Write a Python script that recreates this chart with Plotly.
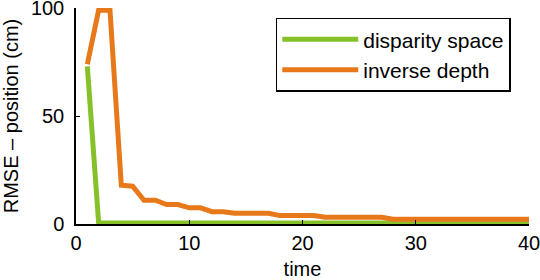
import plotly.graph_objects as go

time = list(range(1, 41))
disparity_space = [73] + [0.5] * 39
inverse_depth = [74, 99, 99, 18, 17.5, 11, 11, 9, 9, 7.5, 7.5, 5.7, 5.7, 5, 5, 5, 5,
                 3.9, 3.9, 3.9, 3.9, 3.1, 3.1, 3.1, 3.1, 3.1, 3.1] + [2.2] * 13

x_ticks = [0, 10, 20, 30, 40]
y_ticks = [0, 50, 100]

FAM = "Liberation Sans, Arial, sans-serif"
font = dict(family=FAM, size=20, color="black")

fig = go.Figure()
fig.add_trace(go.Scatter(x=time, y=disparity_space, mode="lines", name="disparity space",
                         line=dict(color="#86C12A", width=5)))
fig.add_trace(go.Scatter(x=time, y=inverse_depth, mode="lines", name="inverse depth",
                         line=dict(color="#E8791A", width=5)))

fig.update_layout(
    width=540, height=280,
    margin=dict(l=76, r=11, t=8, b=56),
    paper_bgcolor="white", plot_bgcolor="white",
    font=font,
    showlegend=True,
    legend=dict(x=0.441, y=0.955, xanchor="left", yanchor="top",
                bordercolor="black", borderwidth=1.5, bgcolor="white",
                font=dict(family=FAM, size=21, color="black"),
                itemwidth=76, tracegroupgap=0),
)
fig.update_xaxes(range=[0, 40], tickvals=x_ticks, showline=True, linecolor="black", linewidth=1.5,
                 ticks="inside", ticklen=4, tickcolor="black", showgrid=False, zeroline=False,
                 automargin="left", ticklabeloverflow="allow",
                 title=dict(text="time", standoff=14, font=font), mirror=False)
fig.update_yaxes(range=[0, 100], tickvals=y_ticks, showline=True, linecolor="black", linewidth=1.5,
                 ticks="inside", ticklen=4, tickcolor="black", showgrid=False, zeroline=False,
                 automargin="left", ticklabeloverflow="allow", ticklabelstandoff=6,
                 title=dict(text="RMSE – position (cm)", standoff=8, font=font), mirror=False)

fig.write_html("out.html", config={"displayModeBar": False},
               post_script="document.body.style.margin='0';")
